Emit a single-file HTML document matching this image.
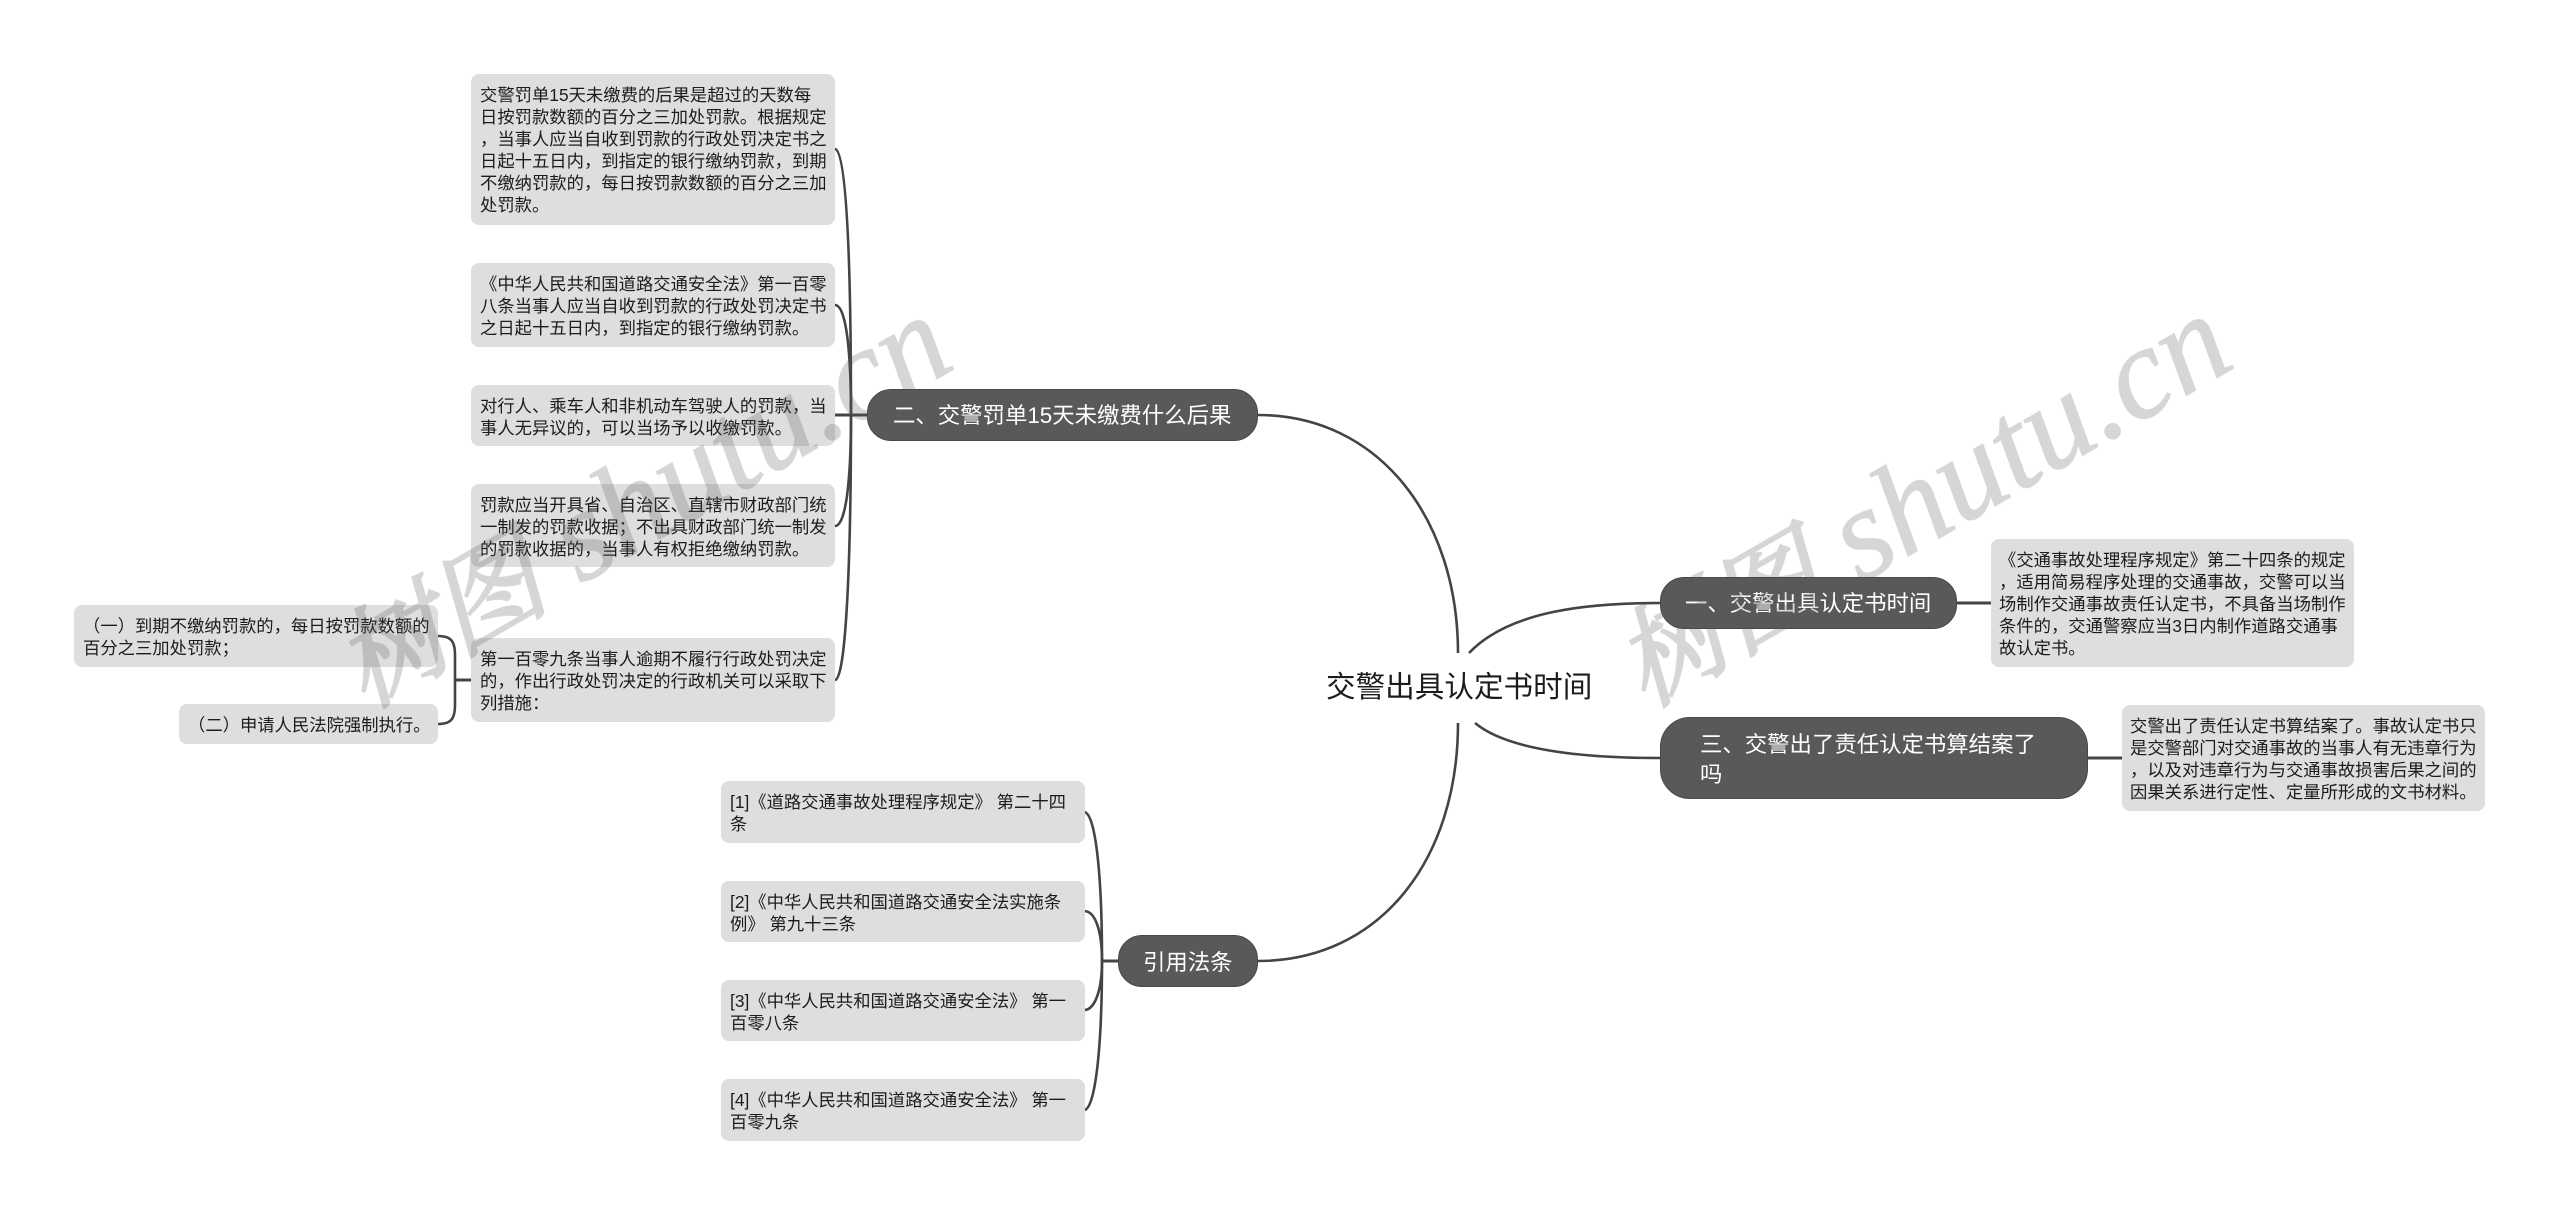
<!DOCTYPE html>
<html lang="zh">
<head>
<meta charset="utf-8">
<style>
html,body{margin:0;padding:0;background:#fff}
#c{position:relative;width:2560px;height:1215px;overflow:hidden;background:#fff;font-family:"Liberation Sans","Noto Sans CJK SC",sans-serif}
svg{position:absolute;left:0;top:0}
.b{position:absolute;background:#dedede;border-radius:8px;color:#1c1c1c;font-size:17.33px;line-height:22px;white-space:nowrap;box-sizing:border-box;padding:9.5px 0 0 9px}
.p{position:absolute;background:#595959;border:1px solid #484848;box-sizing:border-box;color:#fff;font-size:22.4px;white-space:nowrap}
.r{position:absolute;color:#1c1c1c;font-size:29.6px;line-height:40px;white-space:nowrap;left:1326px;top:668px}
</style>
</head>
<body>
<div id="c">
<svg width="2560" height="1215" viewBox="0 0 2560 1215" fill="none" stroke="#444" stroke-width="2.6">
<path d="M1258 415C1380 415 1458 520 1458 653"/>
<path d="M1469 653C1510 610 1590 603 1660 603"/>
<path d="M1475 723C1510 752 1590 758 1660 758"/>
<path d="M1458 723C1458 860 1380 961 1258 961"/>
<path d="M1957 603H1991M2088 758H2122" stroke-width="3"/>
<path d="M835 149C846 149 851 250 851 415"/>
<path d="M835 305C846 305 851 350 851 415"/>
<path d="M835 415H868" stroke-width="3"/>
<path d="M835 526C846 526 851 480 851 415"/>
<path d="M835 680C846 680 851 560 851 415"/>
<path d="M471 680H455" stroke-width="3"/>
<path d="M438 636C450 636 455 640 455 655V705C455 720 450 724 438 724"/>
<path d="M1084 812C1095 812 1102 870 1102 961"/>
<path d="M1084 911C1095 911 1102 930 1102 961"/>
<path d="M1084 1010C1095 1010 1102 990 1102 961"/>
<path d="M1084 1110C1095 1110 1102 1050 1102 961"/>
<path d="M1102 961H1118" stroke-width="3"/>
</svg>

<div class="r">交警出具认定书时间</div>

<div class="p" style="left:867px;top:389px;width:391px;height:52px;border-radius:24px;line-height:52px;padding-left:25px">二、交警罚单15天未缴费什么后果</div>
<div class="p" style="left:1660px;top:577px;width:297px;height:52px;border-radius:24px;line-height:52px;padding-left:24px">一、交警出具认定书时间</div>
<div class="p" style="left:1660px;top:717px;width:428px;height:82px;border-radius:30px;line-height:30px;padding:12px 0 0 39px">三、交警出了责任认定书算结案了<br>吗</div>
<div class="p" style="left:1118px;top:935px;width:140px;height:52px;border-radius:24px;line-height:53px;padding-left:24px">引用法条</div>

<div class="b" style="left:471px;top:74px;width:364px;height:151px">交警罚单15天未缴费的后果是超过的天数每<br>日按罚款数额的百分之三加处罚款。根据规定<br>，当事人应当自收到罚款的行政处罚决定书之<br>日起十五日内，到指定的银行缴纳罚款，到期<br>不缴纳罚款的，每日按罚款数额的百分之三加<br>处罚款。</div>
<div class="b" style="left:471px;top:263px;width:364px;height:84px">《中华人民共和国道路交通安全法》第一百零<br>八条当事人应当自收到罚款的行政处罚决定书<br>之日起十五日内，到指定的银行缴纳罚款。</div>
<div class="b" style="left:471px;top:385px;width:364px;height:61px">对行人、乘车人和非机动车驾驶人的罚款，当<br>事人无异议的，可以当场予以收缴罚款。</div>
<div class="b" style="left:471px;top:484px;width:364px;height:83px">罚款应当开具省、自治区、直辖市财政部门统<br>一制发的罚款收据；不出具财政部门统一制发<br>的罚款收据的，当事人有权拒绝缴纳罚款。</div>
<div class="b" style="left:471px;top:638px;width:364px;height:84px">第一百零九条当事人逾期不履行行政处罚决定<br>的，作出行政处罚决定的行政机关可以采取下<br>列措施：</div>
<div class="b" style="left:74px;top:605px;width:364px;height:62px">（一）到期不缴纳罚款的，每日按罚款数额的<br>百分之三加处罚款；</div>
<div class="b" style="left:179px;top:704px;width:259px;height:40px">（二）申请人民法院强制执行。</div>

<div class="b" style="left:721px;top:781px;width:364px;height:62px">[1]《道路交通事故处理程序规定》 第二十四<br>条</div>
<div class="b" style="left:721px;top:881px;width:364px;height:61px">[2]《中华人民共和国道路交通安全法实施条<br>例》 第九十三条</div>
<div class="b" style="left:721px;top:980px;width:364px;height:61px">[3]《中华人民共和国道路交通安全法》 第一<br>百零八条</div>
<div class="b" style="left:721px;top:1079px;width:364px;height:62px">[4]《中华人民共和国道路交通安全法》 第一<br>百零九条</div>

<div class="b" style="left:1991px;top:539px;width:363px;height:128px;padding-left:8px">《交通事故处理程序规定》第二十四条的规定<br>，适用简易程序处理的交通事故，交警可以当<br>场制作交通事故责任认定书，不具备当场制作<br>条件的，交通警察应当3日内制作道路交通事<br>故认定书。</div>
<div class="b" style="left:2122px;top:705px;width:363px;height:106px;padding-left:8px">交警出了责任认定书算结案了。事故认定书只<br>是交警部门对交通事故的当事人有无违章行为<br>，以及对违章行为与交通事故损害后果之间的<br>因果关系进行定性、定量所形成的文书材料。</div>

<svg width="2560" height="1215" viewBox="0 0 2560 1215">
<g opacity="0.25" fill="#595959" stroke="#595959" stroke-width="1.2" font-size="130" font-style="italic" font-family="'Liberation Serif','Noto Serif CJK SC',serif">
<text transform="translate(1645 708) rotate(-30)"><tspan font-size="108" stroke-width="2.6">树图</tspan> shutu.cn</text>
<text transform="translate(365 709) rotate(-30)"><tspan font-size="108" stroke-width="2.6">树图</tspan> shutu.cn</text>
</g>
</svg>
</div>
</body>
</html>
